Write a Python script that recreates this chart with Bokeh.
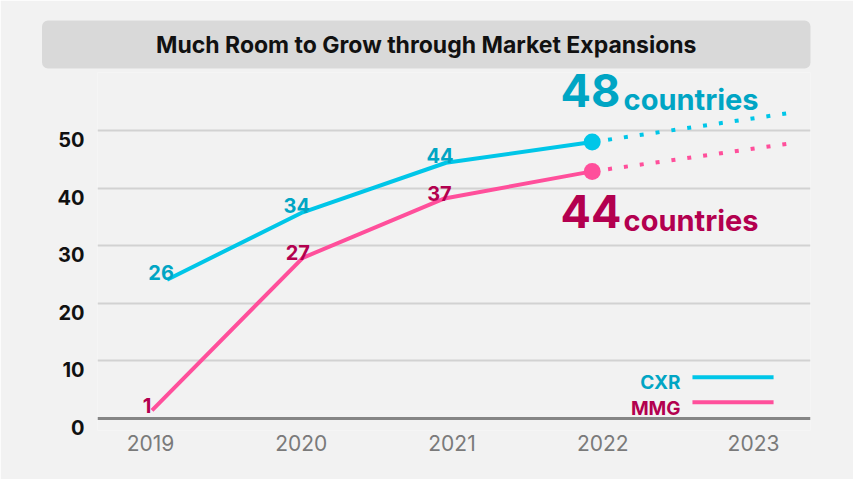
from bokeh.plotting import figure
from bokeh.models import Range1d, LinearAxis, FixedTicker, Label, Grid
from bokeh.core.properties import value
from bokeh.embed import file_html
from bokeh.resources import INLINE

# ---------------- data ----------------
title_text = "Much Room to Grow through Market Expansions"
years = [2019, 2020, 2021, 2022, 2023]
year_labels = ["2019", "2020", "2021", "2022", "2023"]
y_ticks = [0, 10, 20, 30, 40, 50]

cxr_x = [2019.11, 2020.01, 2020.96, 2021.93]
cxr_y = [24.1, 35.8, 44.4, 48.0]
cxr_labels = ["26", "34", "44"]

mmg_x = [2019.01, 2020.01, 2020.95, 2021.93]
mmg_y = [1.4, 27.9, 38.2, 42.9]
mmg_labels = ["1", "27", "37"]

proj_x = [2021.93, 2023.23]
cxr_proj_y = [48.0, 53.0]
mmg_proj_y = [42.9, 47.7]

cxr_total = "48"
mmg_total = "44"
unit_word = "countries"
series_names = ["CXR", "MMG"]

# ---------------- style ----------------
BG = "#f2f2f2"
CXR_LINE = "#00c6e8"
CXR_TEXT = "#00a5c4"
MMG_LINE = "#ff4f9b"
MMG_TEXT = "#b3004f"
FONT = "Inter"

W, H = 853, 479
Y0, Y1 = -2.083, 60.069
p = figure(width=W, height=H, output_backend="svg", toolbar_location=None,
           x_range=Range1d(2018.6484, 2023.378), y_range=Range1d(Y0, Y1),
           min_border_left=97, min_border_right=43, min_border_top=72,
           min_border_bottom=49)
p.background_fill_color = BG
p.border_fill_color = BG
p.outline_line_color = None

# title in a rounded grey box
p.title.text = title_text
p.title.align = "right"
p.title.offset = 0
p.title.standoff = 8
p.title.text_font = FONT
p.title.text_font_style = "bold"
p.title.text_font_size = "23px"
p.title.text_color = "#111111"
p.title.background_fill_color = "#d9d9d9"
p.title.padding = (114, 10)
p.title.border_radius = 6

# grid
p.xgrid.visible = False
p.ygrid.ticker = FixedTicker(ticks=y_ticks[1:])
p.ygrid.grid_line_color = "#d2d2d2"
p.ygrid.grid_line_width = 2
p.add_layout(Grid(dimension=1, ticker=FixedTicker(ticks=y_ticks[:1]),
                  grid_line_color="#858585", grid_line_width=3))

# main y axis hidden, labels on a shifted range (labels sit just below gridlines)
p.yaxis.visible = False
shift = 1.56
p.extra_y_ranges = {"lab": Range1d(Y0 + shift, Y1 + shift)}
yax = LinearAxis(y_range_name="lab", ticker=FixedTicker(ticks=y_ticks))
yax.axis_line_color = None
yax.major_tick_line_color = None
yax.minor_tick_line_color = None
yax.major_tick_out = 0
yax.major_label_standoff = 13
yax.major_label_text_font = FONT
yax.major_label_text_font_style = "bold"
yax.major_label_text_font_size = "20px"
yax.major_label_text_color = "#111111"
p.add_layout(yax, "left")

# x axis
xax = p.xaxis[0]
xax.ticker = FixedTicker(ticks=years)
xax.major_label_overrides = {y: l for y, l in zip(years, year_labels)}
xax.axis_line_color = None
xax.major_tick_line_color = None
xax.minor_tick_line_color = None
xax.major_tick_out = 0
xax.major_tick_in = 0
xax.major_label_standoff = 4
xax.major_label_text_font = FONT
xax.major_label_text_font_size = "21px"
xax.major_label_text_color = "#7a7a7a"

# lines
p.line(cxr_x, cxr_y, line_color=CXR_LINE, line_width=4)
p.line(mmg_x, mmg_y, line_color=MMG_LINE, line_width=4)
p.line(proj_x, cxr_proj_y, line_color=CXR_LINE, line_width=4, line_dash="4 12")
p.line(proj_x, mmg_proj_y, line_color=MMG_LINE, line_width=4, line_dash="4 12")
p.scatter([cxr_x[-1]], [cxr_y[-1]], size=17, fill_color=CXR_LINE, line_color=None)
p.scatter([mmg_x[-1]], [mmg_y[-1]], size=17, fill_color=MMG_LINE, line_color=None)

# point labels
p.text(cxr_x[:3], cxr_y[:3], text=cxr_labels, text_align="center",
       text_baseline="middle", x_offset=-6, y_offset=-7,
       text_font=value(FONT), text_font_style="bold", text_font_size="20px",
       text_color=CXR_TEXT)
p.text(mmg_x[:3], mmg_y[:3], text=mmg_labels, text_align="center",
       text_baseline="middle", x_offset=-5, y_offset=-5,
       text_font=value(FONT), text_font_style="bold", text_font_size="20px",
       text_color=MMG_TEXT)

# big totals
for num, yc_num, yc_word, col in [(cxr_total, 56.94, 55.30, CXR_TEXT),
                                   (mmg_total, 35.94, 34.46, MMG_TEXT)]:
    p.add_layout(Label(x=2021.72, y=yc_num, text=num, text_align="left",
                       text_baseline="middle", text_font=FONT,
                       text_font_style="bold", text_font_size="45px",
                       text_color=col))
    p.add_layout(Label(x=2022.138, y=yc_word, text=unit_word, text_align="left",
                       text_baseline="middle", text_font=FONT,
                       text_font_style="bold", text_font_size="29px",
                       text_color=col))

# manual legend
p.text([2022.516, 2022.516], [6.25, 1.74], text=series_names, text_align="right",
       text_baseline="middle", text_font=value(FONT), text_font_style="bold",
       text_font_size="19px", text_color=[CXR_TEXT, MMG_TEXT])
p.segment(x0=[2022.595, 2022.595], y0=[7.15, 2.83], x1=[2023.133, 2023.133],
          y1=[7.15, 2.83], line_color=[CXR_LINE, MMG_LINE], line_width=4)

open("out.html", "w").write(file_html(p, INLINE))
